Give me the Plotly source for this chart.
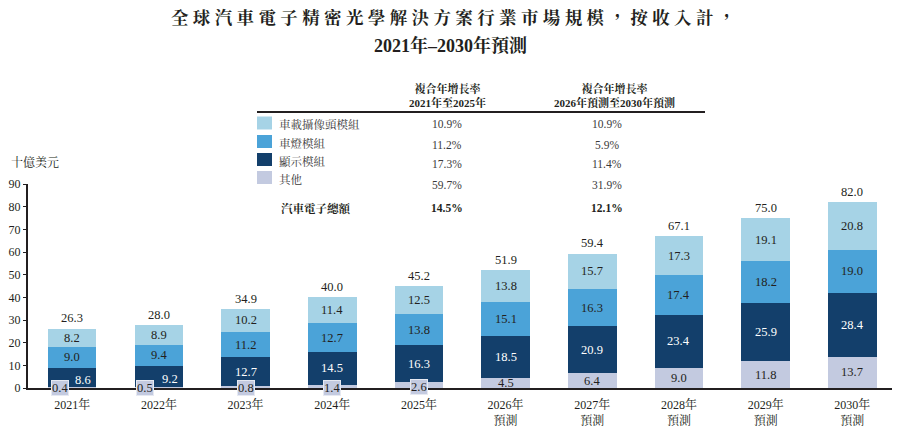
import plotly.graph_objects as go

years = ["2021年", "2022年", "2023年", "2024年", "2025年",
         "2026年<br>預測", "2027年<br>預測", "2028年<br>預測", "2029年<br>預測", "2030年<br>預測"]
others = [0.4, 0.5, 0.8, 1.4, 2.6, 4.5, 6.4, 9.0, 11.8, 13.7]
display = [8.6, 9.2, 12.7, 14.5, 16.3, 18.5, 20.9, 23.4, 25.9, 28.4]
lamps = [9.0, 9.4, 11.2, 12.7, 13.8, 15.1, 16.3, 17.4, 18.2, 19.0]
camera = [8.2, 8.9, 10.2, 11.4, 12.5, 13.8, 15.7, 17.3, 19.1, 20.8]
totals = [26.3, 28.0, 34.9, 40.0, 45.2, 51.9, 59.4, 67.1, 75.0, 82.0]
yticks = [0, 10, 20, 30, 40, 50, 60, 70, 80, 90]

series_names = ["車載攝像頭模組", "車燈模組", "顯示模組", "其他"]
cagr_2125 = ["10.9%", "11.2%", "17.3%", "59.7%"]
cagr_2630 = ["10.9%", "5.9%", "11.4%", "31.9%"]
total_name = "汽車電子總額"
total_cagr_2125 = "14.5%"
total_cagr_2630 = "12.1%"
head1 = "複合年增長率<br>2021年至2025年"
head2 = "複合年增長率<br>2026年預測至2030年預測"
title1 = "全球汽車電子精密光學解決方案行業市場規模，按收入計，"
title2 = "2021年–2030年預測"
unit = "十億美元"

C_CAM = "#a6d3e6"
C_LAMP = "#4ba3d8"
C_DISP = "#133f6b"
C_OTH = "#c3cae0"
colors = {"車載攝像頭模組": C_CAM, "車燈模組": C_LAMP, "顯示模組": C_DISP, "其他": C_OTH}

SERIF = "Liberation Serif, 'Noto Serif CJK TC', 'Noto Sans CJK TC', serif"
TXT = "#231f20"
GREY = "#3a3a3a"

x = list(range(len(years)))

fig = go.Figure()
stack = [("其他", others), ("顯示模組", display), ("車燈模組", lamps), ("車載攝像頭模組", camera)]
for name, vals in stack:
    fig.add_trace(go.Bar(x=x, y=vals, name=name, marker=dict(color=colors[name], line=dict(width=0)),
                         width=0.56, showlegend=False, hoverinfo="skip"))

# plot area in page pixels; page body has an 8px margin
OFF = 8
X0, X1, YT, YB = 28, 900, 184, 388
def fx(p):
    return (p - X0) / (X1 - X0)
def fy(p):
    return (YB - p) / (YB - YT)

ann = []
shapes = []

def pa(px, py, text, size=11.5, color=TXT, xanchor="center"):
    ann.append(dict(x=fx(px), y=fy(py), xref="paper", yref="paper", text=text, showarrow=False,
                    xanchor=xanchor, yanchor="middle", font=dict(family=SERIF, size=size, color=color)))

LBL = 12.5
# segment labels
for i in x:
    if others[i] < 3:
        xs = {0: -12, 1: -14}.get(i, 0)
        yv = {4: 0.6, 5: 2.0}.get(i, 0.0)
        ann.append(dict(x=i, y=yv, xref="x", yref="y", text=f"{others[i]:.1f}", showarrow=False,
                        xshift=xs, xanchor="center", yanchor="middle",
                        font=dict(family=SERIF, size=LBL, color=TXT),
                        bgcolor=C_OTH, bordercolor="#e6e9f2", borderwidth=1, borderpad=0))
    else:
        ann.append(dict(x=i, y=others[i] / 2, xref="x", yref="y", text=f"{others[i]:.1f}", showarrow=False,
                        xanchor="center", yanchor="middle", font=dict(family=SERIF, size=LBL, color=TXT)))
    base = others[i]
    xs = {0: 11, 1: 11}.get(i, 0)
    ann.append(dict(x=i, y=base + display[i] / 2 - (1.2 if i < 2 else 0), xref="x", yref="y",
                    text=f"{display[i]:.1f}", showarrow=False, xshift=xs, xanchor="center", yanchor="middle",
                    font=dict(family=SERIF, size=LBL, color="white")))
    base += display[i]
    ann.append(dict(x=i, y=base + lamps[i] / 2, xref="x", yref="y", text=f"{lamps[i]:.1f}",
                    showarrow=False, xanchor="center", yanchor="middle",
                    font=dict(family=SERIF, size=LBL, color=TXT)))
    base += lamps[i]
    ann.append(dict(x=i, y=base + camera[i] / 2, xref="x", yref="y", text=f"{camera[i]:.1f}",
                    showarrow=False, xanchor="center", yanchor="middle",
                    font=dict(family=SERIF, size=LBL, color=TXT)))
    ann.append(dict(x=i, y=totals[i], xref="x", yref="y", text=f"{totals[i]:.1f}", showarrow=False,
                    xanchor="center", yanchor="bottom", yshift=1,
                    font=dict(family=SERIF, size=LBL, color=TXT)))

# title
sp = "\u2005"
pa(453, 18, "<b>" + sp.join(title1) + "</b>", size=17.5)
pa(450, 45, "<b>" + title2 + "</b>", size=18)

# unit
pa(9, 162, unit, size=12, xanchor="left")

# table headers
pa(447, 95, "<b>" + head1 + "</b>", size=11)
pa(614, 95, "<b>" + head2 + "</b>", size=11)
shapes.append(dict(type="line", xref="paper", yref="paper", x0=fx(257), x1=fx(705), y0=fy(112), y1=fy(112),
                   line=dict(color=TXT, width=2)))

row_sw = [123, 141.5, 159.5, 177.5]
row_lab = [125, 143, 161, 179]
row_val = [124, 145, 164, 185]
for k, name in enumerate(series_names):
    shapes.append(dict(type="rect", xref="paper", yref="paper", x0=fx(257), x1=fx(272),
                       y0=fy(row_sw[k] + 6.5), y1=fy(row_sw[k] - 6.5),
                       fillcolor=colors[name], line=dict(width=0)))
    pa(277, row_lab[k], name, color=GREY, xanchor="left")
    pa(447, row_val[k], cagr_2125[k], color=GREY)
    pa(607, row_val[k], cagr_2630[k], color=GREY)
pa(279, 208, "<b>" + total_name + "</b>", xanchor="left")
pa(447, 208, "<b>" + total_cagr_2125 + "</b>")
pa(607, 208, "<b>" + total_cagr_2630 + "</b>")

fig.update_layout(
    barmode="stack",
    width=900, height=428,
    margin=dict(l=X0 - OFF, r=900 - (X1 - OFF), t=YT - OFF, b=428 - (YB - OFF), autoexpand=False),
    paper_bgcolor="white", plot_bgcolor="white",
    annotations=ann, shapes=shapes,
    xaxis=dict(tickmode="array", tickvals=x, ticktext=years, range=[-0.51, 9.55], automargin=False,
               showline=True, linecolor=TXT, linewidth=2, ticks="", showgrid=False, zeroline=False,
               ticklabelstandoff=5,
               tickfont=dict(family=SERIF, size=12, color=TXT), fixedrange=True),
    yaxis=dict(tickmode="array", tickvals=yticks, range=[0, 90], showline=True, linecolor=TXT,
               linewidth=2, ticks="outside", ticklen=3, tickcolor=TXT, showgrid=False, zeroline=False,
               automargin=False, tickfont=dict(family=SERIF, size=12, color=TXT), fixedrange=True),
    bargap=0.44,
)

fig.write_html("out.html")
